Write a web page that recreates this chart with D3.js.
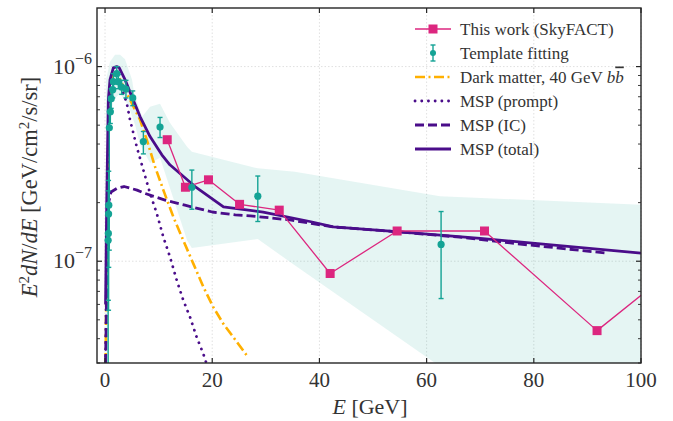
<!DOCTYPE html>
<html><head><meta charset="utf-8">
<script src="https://cdn.jsdelivr.net/npm/d3@7"></script>
<style>
html,body{margin:0;padding:0;background:#fff;}
svg{display:block;}
text{font-family:"Liberation Serif","DejaVu Serif",serif;fill:#333;}
</style></head>
<body>
<svg id="chart" width="673" height="421"></svg>
<script>
// ---------- data ----------
const xTicks = [0, 20, 40, 60, 80, 100];
const yMajorTicks = [1e-7, 1e-6];
const yMajorLabels = ["−7", "−6"];
const yMinorTicks = [3e-8,4e-8,5e-8,6e-8,7e-8,8e-8,9e-8,2e-7,3e-7,4e-7,5e-7,6e-7,7e-7,8e-7,9e-7];

// SkyFACT (this work)
const skyE = [11.6, 15.0, 19.3, 25.1, 32.5, 42.0, 54.5, 70.8, 91.8, 118.6];
const skyV = [4.21e-7, 2.40e-7, 2.62e-7, 1.96e-7, 1.83e-7, 8.65e-8, 1.43e-7, 1.43e-7, 4.4e-8, 1.72e-7];

// Template fitting
const tfE  = [0.58, 0.62, 0.66, 0.70, 0.80, 0.99, 1.15, 1.44, 1.55, 2.18, 2.48, 3.1, 3.9, 5.17, 7.15, 10.26, 16.2, 28.5, 62.7];
const tfV  = [1.28e-7, 1.39e-7, 1.75e-7, 1.94e-7, 4.85e-7, 5.86e-7, 6.84e-7, 7.61e-7, 8.37e-7, 9.2e-7, 8.37e-7, 7.84e-7, 7.67e-7, 6.9e-7, 4.12e-7, 4.89e-7, 2.4e-7, 2.16e-7, 1.22e-7];
const tfLo = [1e-9, 6.3e-8, 5.6e-8, 9.3e-8, 1.14e-7, 5.1e-7, 6.1e-7, 6.9e-7, 7.6e-7, 8.5e-7, 7.7e-7, 7.2e-7, 6.9e-7, 6.3e-7, 3.56e-7, 4.32e-7, 1.85e-7, 1.6e-7, 6.43e-8];
const tfHi = [1.9e-7, 2.3e-7, 2.6e-7, 2.9e-7, 5.9e-7, 6.7e-7, 7.7e-7, 8.4e-7, 9.2e-7, 1.0e-6, 9.1e-7, 8.5e-7, 8.5e-7, 7.5e-7, 4.64e-7, 5.48e-7, 2.94e-7, 2.74e-7, 1.8e-7];

// Template-fitting uncertainty band
const bandUpE = [0.19, 0.93, 1.87, 2.8, 3.73, 5.04, 5.41, 6.9, 8.4, 10.26, 12.1, 15.3, 16.2, 28.5, 35.4, 62.5, 100];
const bandUpV = [8.57e-7, 1.06e-6, 1.15e-6, 1.15e-6, 1.09e-6, 8.57e-7, 7.34e-7, 5.52e-7, 6.22e-7, 6.44e-7, 5.14e-7, 3.87e-7, 3.65e-7, 3.0e-7, 2.88e-7, 2.16e-7, 1.95e-7];
const bandLoE = [0.19, 0.5, 0.7, 0.93, 1.5, 2.8, 4.3, 5.6, 6.5, 8.4, 10.26, 15.3, 16.2, 28.5, 35.4, 62.5, 100];
const bandLoV = [1e-9, 1e-9, 2.62e-7, 4.73e-7, 6.76e-7, 7.26e-7, 6.37e-7, 5.03e-7, 4.0e-7, 3.2e-7, 3.4e-7, 1.28e-7, 1.17e-7, 1.30e-7, 9.53e-8, 2.88e-8, 1e-9];

// Dark matter, 40 GeV b bbar
const dmE = [0.1, 0.3, 0.6, 1.0, 1.5, 1.9, 2.5, 3.41, 5.28, 6.53, 7.78, 9.33, 10.88, 12.74, 14.6, 16.47, 18.34, 20.2, 22.07, 23.94, 26.7];
const dmV = [3e-8, 1.0e-7, 4.0e-7, 7.5e-7, 9.0e-7, 9.3e-7, 9.0e-7, 7.91e-7, 6.24e-7, 5.33e-7, 4.21e-7, 3.06e-7, 2.32e-7, 1.69e-7, 1.28e-7, 9.72e-8, 7.38e-8, 5.81e-8, 4.77e-8, 4.07e-8, 3.21e-8];

// MSP prompt
const mspPE = [0.1, 0.3, 0.6, 1.0, 1.55, 2.48, 3.41, 4.05, 4.66, 5.91, 7.15, 8.4, 9.65, 10.88, 12.13, 13.38, 14.6, 15.86, 17.1, 18.34, 18.84, 19.3];
const mspPV = [3e-8, 1.0e-7, 4.0e-7, 7.0e-7, 8.57e-7, 8.4e-7, 7.31e-7, 6.5e-7, 5.33e-7, 3.88e-7, 2.94e-7, 2.23e-7, 1.76e-7, 1.33e-7, 1.05e-7, 7.98e-8, 6.3e-8, 5.16e-8, 4.07e-8, 3.34e-8, 3.03e-8, 2.8e-8];

// MSP inverse Compton
const mspIE = [0.1, 0.37, 0.65, 1.12, 2.24, 3.54, 5.97, 7.46, 11.2, 14.9, 20.0, 24.3, 27.1, 34.5, 42.5, 51.3, 66.2, 79.3, 93.7];
const mspIV = [3e-8, 1.01e-7, 1.99e-7, 2.27e-7, 2.37e-7, 2.42e-7, 2.32e-7, 2.23e-7, 2.06e-7, 1.94e-7, 1.79e-7, 1.73e-7, 1.71e-7, 1.63e-7, 1.5e-7, 1.44e-7, 1.33e-7, 1.21e-7, 1.10e-7];

// MSP total
const mspTE = [0.1, 0.32, 0.62, 0.93, 1.55, 2.18, 2.61, 3.73, 4.98, 6.53, 8.4, 10.6, 12.1, 16.8, 22.1, 29.5, 38.2, 42.6, 54.4, 70.0, 100];
const mspTV = [6e-8, 2.06e-7, 6.76e-7, 8.57e-7, 9.85e-7, 1.0e-6, 9.9e-7, 8.57e-7, 7.03e-7, 5.54e-7, 4.37e-7, 3.52e-7, 3.13e-7, 2.42e-7, 1.9e-7, 1.79e-7, 1.6e-7, 1.5e-7, 1.42e-7, 1.31e-7, 1.1e-7];

// ---------- styles ----------
const PINK = "#dc267f", TEAL = "#14a395", ORANGE = "#ffb000", PURPLE = "#4a0d8a";

// ---------- layout ----------
const L = 97, R = 641, T = 8, B = 363;
const svg = d3.select("#chart");
const x = d3.scaleLinear().domain([-1.5, 100]).range([L, R]);
const y = d3.scaleLog().domain([3e-8, 2e-6]).range([B, T]);

svg.append("defs").append("clipPath").attr("id", "clip")
  .append("rect").attr("x", L).attr("y", T).attr("width", R - L).attr("height", B - T);

// grid
const grid = svg.append("g");
xTicks.forEach(t => grid.append("line").attr("x1", x(t)).attr("x2", x(t)).attr("y1", T).attr("y2", B)
  .attr("stroke", "#d8d8d8").attr("stroke-width", 0.8).attr("stroke-dasharray", "1.5,2"));
yMajorTicks.forEach(t => grid.append("line").attr("x1", L).attr("x2", R).attr("y1", y(t)).attr("y2", y(t))
  .attr("stroke", "#d8d8d8").attr("stroke-width", 0.8).attr("stroke-dasharray", "1.5,2"));

const plot = svg.append("g").attr("clip-path", "url(#clip)");

// band
const bandPts = bandUpE.map((e, i) => [e, bandUpV[i]])
  .concat(bandLoE.map((e, i) => [e, bandLoV[i]]).reverse());
plot.append("path")
  .attr("d", d3.line().x(d => x(d[0])).y(d => y(Math.max(d[1], 1e-12)))(bandPts) + "Z")
  .attr("fill", TEAL).attr("fill-opacity", 0.11).attr("stroke", "none");

const line = d3.line().x(d => x(d[0])).y(d => y(d[1]));
function curve(E, V, color, dash, w, cap) {
  plot.append("path").attr("d", line(E.map((e, i) => [e, V[i]])))
    .attr("fill", "none").attr("stroke", color).attr("stroke-width", w)
    .attr("stroke-dasharray", dash).attr("stroke-linecap", cap || "butt")
    .attr("stroke-linejoin", "round");
}
curve(dmE, dmV, ORANGE, "10,3.5,2,3.5", 2.6);
curve(mspPE, mspPV, PURPLE, "0.1,6.6", 2.8, "round");
curve(mspIE, mspIV, PURPLE, "9,4", 2.8);
curve(mspTE, mspTV, PURPLE, null, 2.8);

// SkyFACT
curve(skyE, skyV, PINK, null, 1.3);
plot.selectAll(".sq").data(skyE.map((e, i) => [e, skyV[i]])).enter().append("rect")
  .attr("x", d => x(d[0]) - 4.5).attr("y", d => y(d[1]) - 4.5)
  .attr("width", 9).attr("height", 9).attr("fill", PINK);

// Template fitting
const tf = tfE.map((e, i) => ({e, v: tfV[i], lo: tfLo[i], hi: tfHi[i]}));
const tg = plot.append("g");
tf.forEach(d => {
  const cx = x(d.e);
  tg.append("line").attr("x1", cx).attr("x2", cx).attr("y1", y(d.lo)).attr("y2", y(d.hi))
    .attr("stroke", TEAL).attr("stroke-width", 1.4);
  [d.lo, d.hi].forEach(b => tg.append("line").attr("x1", cx - 2.5).attr("x2", cx + 2.5)
    .attr("y1", y(b)).attr("y2", y(b)).attr("stroke", TEAL).attr("stroke-width", 1.4));
  tg.append("circle").attr("cx", cx).attr("cy", y(d.v)).attr("r", 3.6).attr("fill", TEAL);
});

// frame and ticks
const ax = svg.append("g").attr("stroke", "#262626");
ax.append("rect").attr("x", L).attr("y", T).attr("width", R - L).attr("height", B - T)
  .attr("fill", "none").attr("stroke-width", 1.4);
xTicks.forEach(t => {
  ax.append("line").attr("x1", x(t)).attr("x2", x(t)).attr("y1", B).attr("y2", B - 5).attr("stroke-width", 1.2);
  ax.append("line").attr("x1", x(t)).attr("x2", x(t)).attr("y1", T).attr("y2", T + 5).attr("stroke-width", 1.2);
});
yMajorTicks.forEach(t => {
  ax.append("line").attr("x1", L).attr("x2", L + 5).attr("y1", y(t)).attr("y2", y(t)).attr("stroke-width", 1.2);
  ax.append("line").attr("x1", R).attr("x2", R - 5).attr("y1", y(t)).attr("y2", y(t)).attr("stroke-width", 1.2);
});
yMinorTicks.forEach(t => {
  ax.append("line").attr("x1", L).attr("x2", L + 3).attr("y1", y(t)).attr("y2", y(t)).attr("stroke-width", 0.9);
  ax.append("line").attr("x1", R).attr("x2", R - 3).attr("y1", y(t)).attr("y2", y(t)).attr("stroke-width", 0.9);
});

// tick labels
xTicks.forEach(t => svg.append("text").attr("x", x(t)).attr("y", B + 24)
  .attr("text-anchor", "middle").attr("font-size", 21).text(t));
yMajorTicks.forEach((t, i) => {
  const tx = svg.append("text").attr("x", 92).attr("y", y(t) + 7).attr("text-anchor", "end").attr("font-size", 22);
  tx.append("tspan").text("10");
  tx.append("tspan").attr("dy", -10).attr("font-size", 16).text(yMajorLabels[i]);
});

// axis labels
const xl = svg.append("text").attr("x", 370).attr("y", 414).attr("text-anchor", "middle").attr("font-size", 22);
xl.append("tspan").attr("font-style", "italic").text("E");
xl.append("tspan").text(" [GeV]");

const yl = svg.append("text").attr("transform", "translate(37,187) rotate(-90)")
  .attr("text-anchor", "middle").attr("font-size", 22.5);
yl.append("tspan").attr("font-style", "italic").text("E");
yl.append("tspan").attr("dy", -8).attr("font-size", 15).text("2");
yl.append("tspan").attr("dy", 8).attr("font-style", "italic").text("dN");
yl.append("tspan").text("/");
yl.append("tspan").attr("font-style", "italic").text("dE");
yl.append("tspan").text(" [GeV/cm");
yl.append("tspan").attr("dy", -8).attr("font-size", 15).text("2");
yl.append("tspan").attr("dy", 8).text("/s/sr]");

// legend
const legY = [29, 53, 77, 101, 125, 149];
const lg = svg.append("g");
const hx1 = 415, hx2 = 451, tx0 = 460;
function legLine(i, color, dash, w, cap) {
  lg.append("line").attr("x1", hx1).attr("x2", hx2).attr("y1", legY[i]).attr("y2", legY[i])
    .attr("stroke", color).attr("stroke-width", w).attr("stroke-dasharray", dash).attr("stroke-linecap", cap || "butt");
}
legLine(0, PINK, null, 1.3);
lg.append("rect").attr("x", (hx1 + hx2) / 2 - 4.5).attr("y", legY[0] - 4.5).attr("width", 9).attr("height", 9).attr("fill", PINK);
{
  const cx = (hx1 + hx2) / 2, cy = legY[1];
  lg.append("line").attr("x1", cx).attr("x2", cx).attr("y1", cy - 8).attr("y2", cy + 8).attr("stroke", TEAL).attr("stroke-width", 1.4);
  [cy - 8, cy + 8].forEach(b => lg.append("line").attr("x1", cx - 2.5).attr("x2", cx + 2.5).attr("y1", b).attr("y2", b).attr("stroke", TEAL).attr("stroke-width", 1.4));
  lg.append("circle").attr("cx", cx).attr("cy", cy).attr("r", 3).attr("fill", TEAL);
}
legLine(2, ORANGE, "10,3.5,2,3.5", 2.6);
legLine(3, PURPLE, "0.1,6.6", 2.8, "round");
legLine(4, PURPLE, "9,4", 2.8);
legLine(5, PURPLE, null, 2.8);

const legText = ["This work (SkyFACT)", "Template fitting", null, "MSP (prompt)", "MSP (IC)", "MSP (total)"];
legText.forEach((t, i) => {
  if (t) lg.append("text").attr("x", tx0).attr("y", legY[i] + 5.5).attr("font-size", 17).text(t);
});
{
  const t = lg.append("text").attr("x", tx0).attr("y", legY[2] + 5.5).attr("font-size", 17);
  t.append("tspan").text("Dark matter, 40 GeV ");
  t.append("tspan").attr("font-style", "italic").text("b");
  t.append("tspan").attr("font-style", "italic").attr("text-decoration", "overline").text("b");
}
</script>
</body></html>
